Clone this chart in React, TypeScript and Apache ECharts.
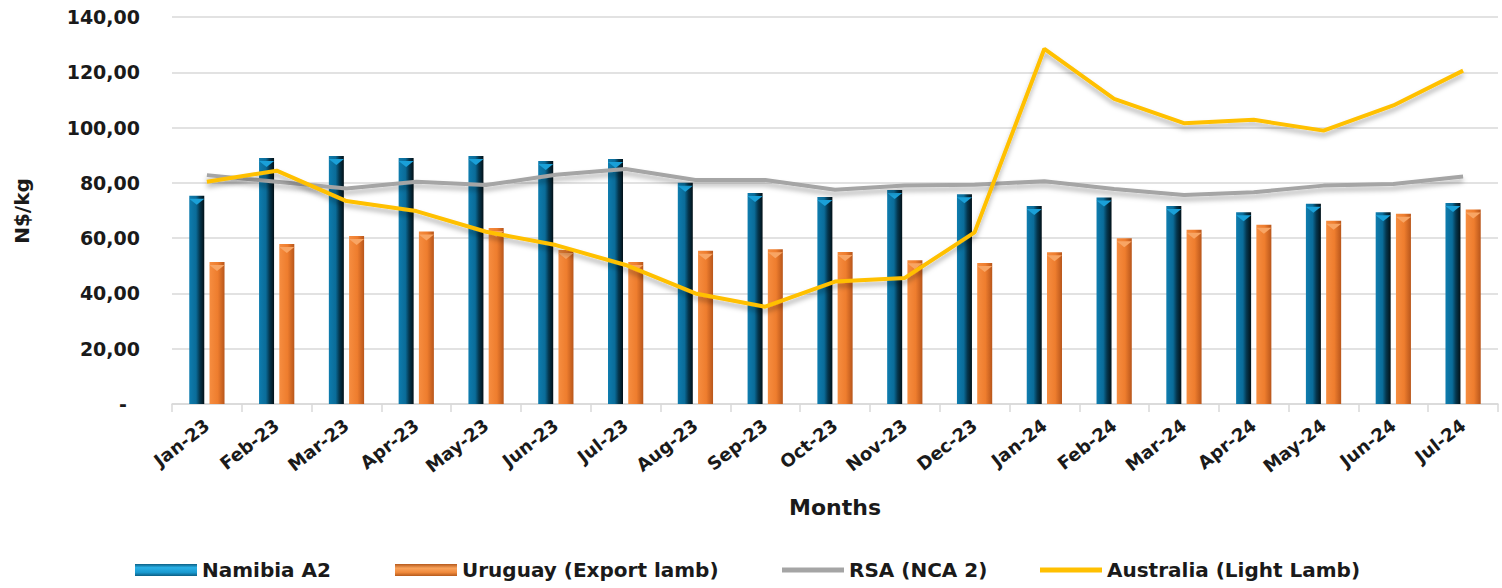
import React, { useEffect, useRef } from "react";
import * as echarts from "echarts";

const categories = [
  "Jan-23", "Feb-23", "Mar-23", "Apr-23", "May-23", "Jun-23", "Jul-23", "Aug-23", "Sep-23", "Oct-23",
  "Nov-23", "Dec-23", "Jan-24", "Feb-24", "Mar-24", "Apr-24", "May-24", "Jun-24", "Jul-24",
];
const namibiaA2 = [75.3, 89.0, 89.7, 89.0, 89.7, 87.9, 88.6, 80.0, 76.3, 74.9, 77.4, 75.9, 71.6, 74.7, 71.6, 69.4, 72.4, 69.4, 72.7];
const uruguay = [51.4, 57.9, 60.8, 62.4, 63.7, 55.7, 51.4, 55.4, 56.0, 55.0, 52.0, 51.0, 54.9, 60.0, 63.0, 64.8, 66.3, 68.8, 70.4];
const rsa = [82.8, 80.4, 78.0, 80.4, 79.2, 82.9, 85.0, 81.0, 81.0, 77.5, 79.0, 79.3, 80.6, 77.8, 75.6, 76.6, 79.0, 79.6, 82.3];
const australia = [80.4, 84.4, 73.4, 69.8, 62.3, 57.5, 50.3, 40.0, 35.2, 44.3, 45.6, 62.1, 128.5, 110.4, 101.6, 102.8, 98.9, 108.0, 120.6];

const seriesNames = ["Namibia A2", "Uruguay (Export lamb)", "RSA (NCA 2)", "Australia (Light Lamb)"];
const yTicks = { min: 0, max: 140, interval: 20 };

const FONT = "DejaVu Sans";

export default function App() {
  const ref = useRef<HTMLDivElement>(null);
  useEffect(() => {
    const chart = echarts.init(ref.current!, null, { renderer: "svg" });
    const blueBar = new echarts.graphic.LinearGradient(0, 0, 1, 0, [
      { offset: 0, color: "#0e7cae" },
      { offset: 0.45, color: "#0a6c99" },
      { offset: 0.7, color: "#05364d" },
      { offset: 1, color: "#021118" },
    ]);
    const orangeBar = new echarts.graphic.LinearGradient(0, 0, 1, 0, [
      { offset: 0, color: "#f68d40" },
      { offset: 0.55, color: "#ee7d2e" },
      { offset: 1, color: "#b8561b" },
    ]);
    const blueLegend = new echarts.graphic.LinearGradient(0, 0, 0, 1, [
      { offset: 0, color: "#0b5f85" },
      { offset: 0.3, color: "#2ab0e6" },
      { offset: 0.7, color: "#1a9ad0" },
      { offset: 1, color: "#0b5f85" },
    ]);
    const orangeLegend = new echarts.graphic.LinearGradient(0, 0, 0, 1, [
      { offset: 0, color: "#b65a1c" },
      { offset: 0.35, color: "#f9a35c" },
      { offset: 0.7, color: "#f08a3c" },
      { offset: 1, color: "#b65a1c" },
    ]);
    const legendText = { fontFamily: FONT, fontWeight: "bold", fontSize: 20, color: "#1a1a1a", lineHeight: 22 };
    const legendBase = {
      top: 559,
      itemWidth: 62,
      itemHeight: 12,
      itemGap: 0,
      padding: 0,
      selectedMode: false,
      textStyle: legendText,
    };
    const lineLegendBase = { ...legendBase, itemHeight: 5 };
    const capShape = "path://M0,0 L10,0 L5,6 Z";
    chart.setOption({
      animation: false,
      backgroundColor: "#ffffff",
      grid: { left: 172, right: 4, top: 17, bottom: 184, containLabel: false },
      legend: [
        { ...legendBase, left: 135, data: [{ name: seriesNames[0], icon: "rect", itemStyle: { color: blueLegend } }] },
        { ...legendBase, left: 395, data: [{ name: seriesNames[1], icon: "rect", itemStyle: { color: orangeLegend } }] },
        { ...lineLegendBase, left: 782, data: [{ name: seriesNames[2], icon: "rect", itemStyle: { color: "#a5a5a5" } }] },
        { ...lineLegendBase, left: 1040, data: [{ name: seriesNames[3], icon: "rect", itemStyle: { color: "#ffc000" } }] },
      ],
      xAxis: {
        type: "category",
        data: categories,
        boundaryGap: true,
        axisLine: { lineStyle: { color: "#d9d9d9", width: 1.5 } },
        axisTick: { show: true, length: 8, lineStyle: { color: "#d9d9d9", width: 1.5 } },
        axisLabel: {
          rotate: 38,
          margin: 19,
          fontFamily: FONT,
          fontWeight: "bold",
          fontSize: 18,
          color: "#1a1a1a",
          interval: 0,
        },
      },
      yAxis: {
        type: "value",
        min: yTicks.min,
        max: yTicks.max,
        interval: yTicks.interval,
        axisLine: { show: false },
        axisTick: { show: false },
        splitLine: { lineStyle: { color: "#d9d9d9", width: 1.5 } },
        axisLabel: {
          margin: 32,
          fontFamily: FONT,
          fontWeight: "bold",
          fontSize: 19,
          color: "#1a1a1a",
          formatter: (v: number) => (v === 0 ? "-\u00A0\u00A0" : v.toFixed(2).replace(".", ",")),
        },
      },
      graphic: [
        {
          type: "text",
          x: 835,
          y: 507,
          style: {
            text: "Months",
            fontFamily: FONT,
            fontWeight: "bold",
            fontSize: 22,
            fill: "#1a1a1a",
            align: "center",
            verticalAlign: "middle",
          },
        },
        {
          type: "text",
          x: 22,
          y: 211,
          rotation: Math.PI / 2,
          style: {
            text: "N$/kg",
            fontFamily: FONT,
            fontWeight: "bold",
            fontSize: 20,
            fill: "#1a1a1a",
            align: "center",
            verticalAlign: "middle",
          },
        },
      ],
      series: [
        {
          name: seriesNames[0],
          type: "bar",
          data: namibiaA2,
          barWidth: 15,
          barGap: "35%",
          itemStyle: { color: blueBar },
          z: 2,
        },
        {
          name: seriesNames[1],
          type: "bar",
          data: uruguay,
          barWidth: 15,
          barGap: "35%",
          itemStyle: { color: orangeBar },
          z: 2,
        },
        {
          type: "pictorialBar",
          data: namibiaA2,
          barWidth: 15,
          barGap: "35%",
          symbol: capShape,
          symbolSize: [15, 6],
          symbolPosition: "end",
          symbolOffset: [0, "50%"],
          itemStyle: { color: "#1aa0d8" },
          silent: true,
          z: 3,
        },
        {
          type: "pictorialBar",
          data: uruguay,
          barWidth: 15,
          barGap: "35%",
          symbol: capShape,
          symbolSize: [15, 6],
          symbolPosition: "end",
          symbolOffset: [0, "50%"],
          itemStyle: { color: "#f8a564" },
          silent: true,
          z: 3,
        },
        {
          name: seriesNames[2],
          type: "line",
          data: rsa,
          symbol: "none",
          itemStyle: { color: "#a5a5a5" },
          lineStyle: {
            color: "#a5a5a5",
            width: 4,
            shadowColor: "rgba(0,0,0,0.3)",
            shadowBlur: 5,
            shadowOffsetY: 4,
          },
          z: 4,
        },
        {
          name: seriesNames[3],
          type: "line",
          data: australia,
          symbol: "none",
          itemStyle: { color: "#ffc000" },
          lineStyle: {
            color: "#ffc000",
            width: 4,
            shadowColor: "rgba(0,0,0,0.3)",
            shadowBlur: 5,
            shadowOffsetY: 4,
          },
          z: 5,
        },
      ],
    });
    return () => chart.dispose();
  }, []);
  return (
    <div
      ref={ref}
      style={{ position: "fixed", left: 0, top: 0, width: 1502, height: 588, background: "#ffffff" }}
    />
  );
}
